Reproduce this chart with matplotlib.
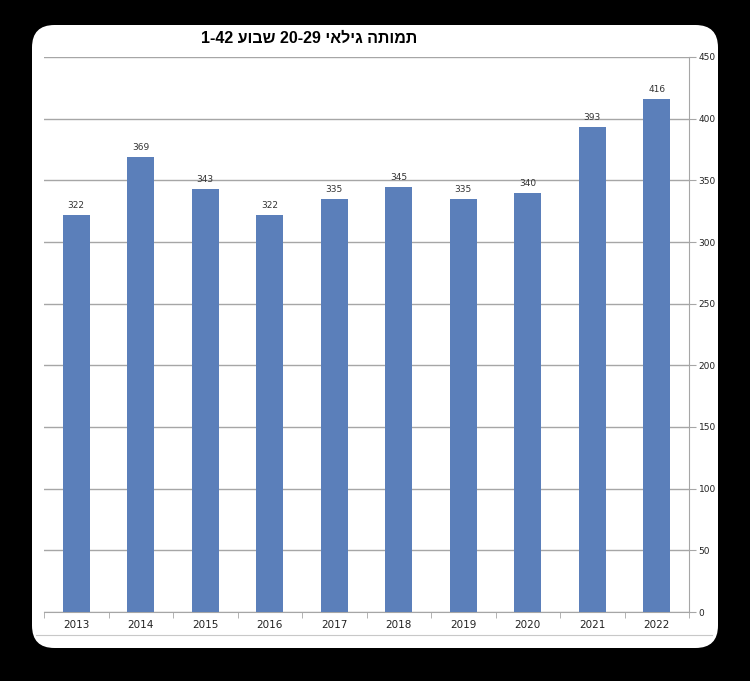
import matplotlib
matplotlib.use("Agg")
import matplotlib.pyplot as plt
from matplotlib.patches import FancyBboxPatch
from matplotlib.lines import Line2D

years = ["2013", "2014", "2015", "2016", "2017", "2018", "2019", "2020", "2021", "2022"]
deaths = [322, 369, 343, 322, 335, 345, 335, 340, 393, 416]
yticks = [0, 50, 100, 150, 200, 250, 300, 350, 400, 450]
title_logical = "תמותה גילאי 20-29 שבוע 1-42"


def visual_order(s):
    # matplotlib has no bidi support: reorder RTL text for LTR drawing
    def is_heb(w):
        return any('\u0590' <= c <= '\u05FF' for c in w)
    words = s.split(" ")
    words = [w[::-1] if is_heb(w) else w for w in words]
    return " ".join(reversed(words))


fig = plt.figure(figsize=(7.5, 6.81), dpi=100, facecolor="black")

box = FancyBboxPatch((32 / 750, 1 - 648 / 681), (718 - 32) / 750, (648 - 25) / 681,
                     boxstyle="round,pad=0,rounding_size=0.03",
                     transform=fig.transFigure, facecolor="white", edgecolor="none",
                     mutation_aspect=750 / 681, zorder=-10)
fig.patches.append(box)
fig.lines.append(Line2D([36 / 750, 712 / 750], [1 - 635 / 681, 1 - 635 / 681],
                        transform=fig.transFigure, color="#c8c8c8", lw=0.8, zorder=-5))

ax = fig.add_axes([44 / 750, 1 - 612 / 681, (689 - 44) / 750, (612 - 57) / 681])
ax.set_facecolor("white")

x = list(range(len(years)))
bars = ax.bar(x, deaths, width=0.42, color="#5b7fba", zorder=3)
for xi, v in zip(x, deaths):
    ax.text(xi, v + 4, str(v), ha="center", va="bottom", fontsize=6.5,
            color="#333333", family="DejaVu Sans")

ax.set_xlim(-0.5, len(years) - 0.5)
ax.set_ylim(0, 450)
ax.set_yticks(yticks)
ax.yaxis.tick_right()
ax.yaxis.set_label_position("right")
ax.grid(axis="y", color="#a6a6a6", lw=1.0, zorder=0)
ax.set_xticks(x)
ax.set_xticklabels(years)
ax.set_xticks([i - 0.5 for i in range(len(years) + 1)], minor=True)
ax.tick_params(axis="x", which="major", length=0, labelsize=7.5, pad=6, colors="#222222")
ax.tick_params(axis="x", which="minor", length=4, color="#a6a6a6", direction="out")
ax.tick_params(axis="y", length=5, color="#a6a6a6", labelsize=6.5, pad=2, labelcolor="#222222")

for side in ["top", "left"]:
    ax.spines[side].set_visible(False)
ax.spines["bottom"].set_color("#a6a6a6")
ax.spines["right"].set_color("#a6a6a6")

fig.text(309 / 750, 1 - 38 / 681, visual_order(title_logical), ha="center", va="center",
         fontsize=11.5, fontweight="bold", family=["Liberation Sans", "DejaVu Sans"], color="black")

fig.savefig("out.png", dpi=100, facecolor="black")
